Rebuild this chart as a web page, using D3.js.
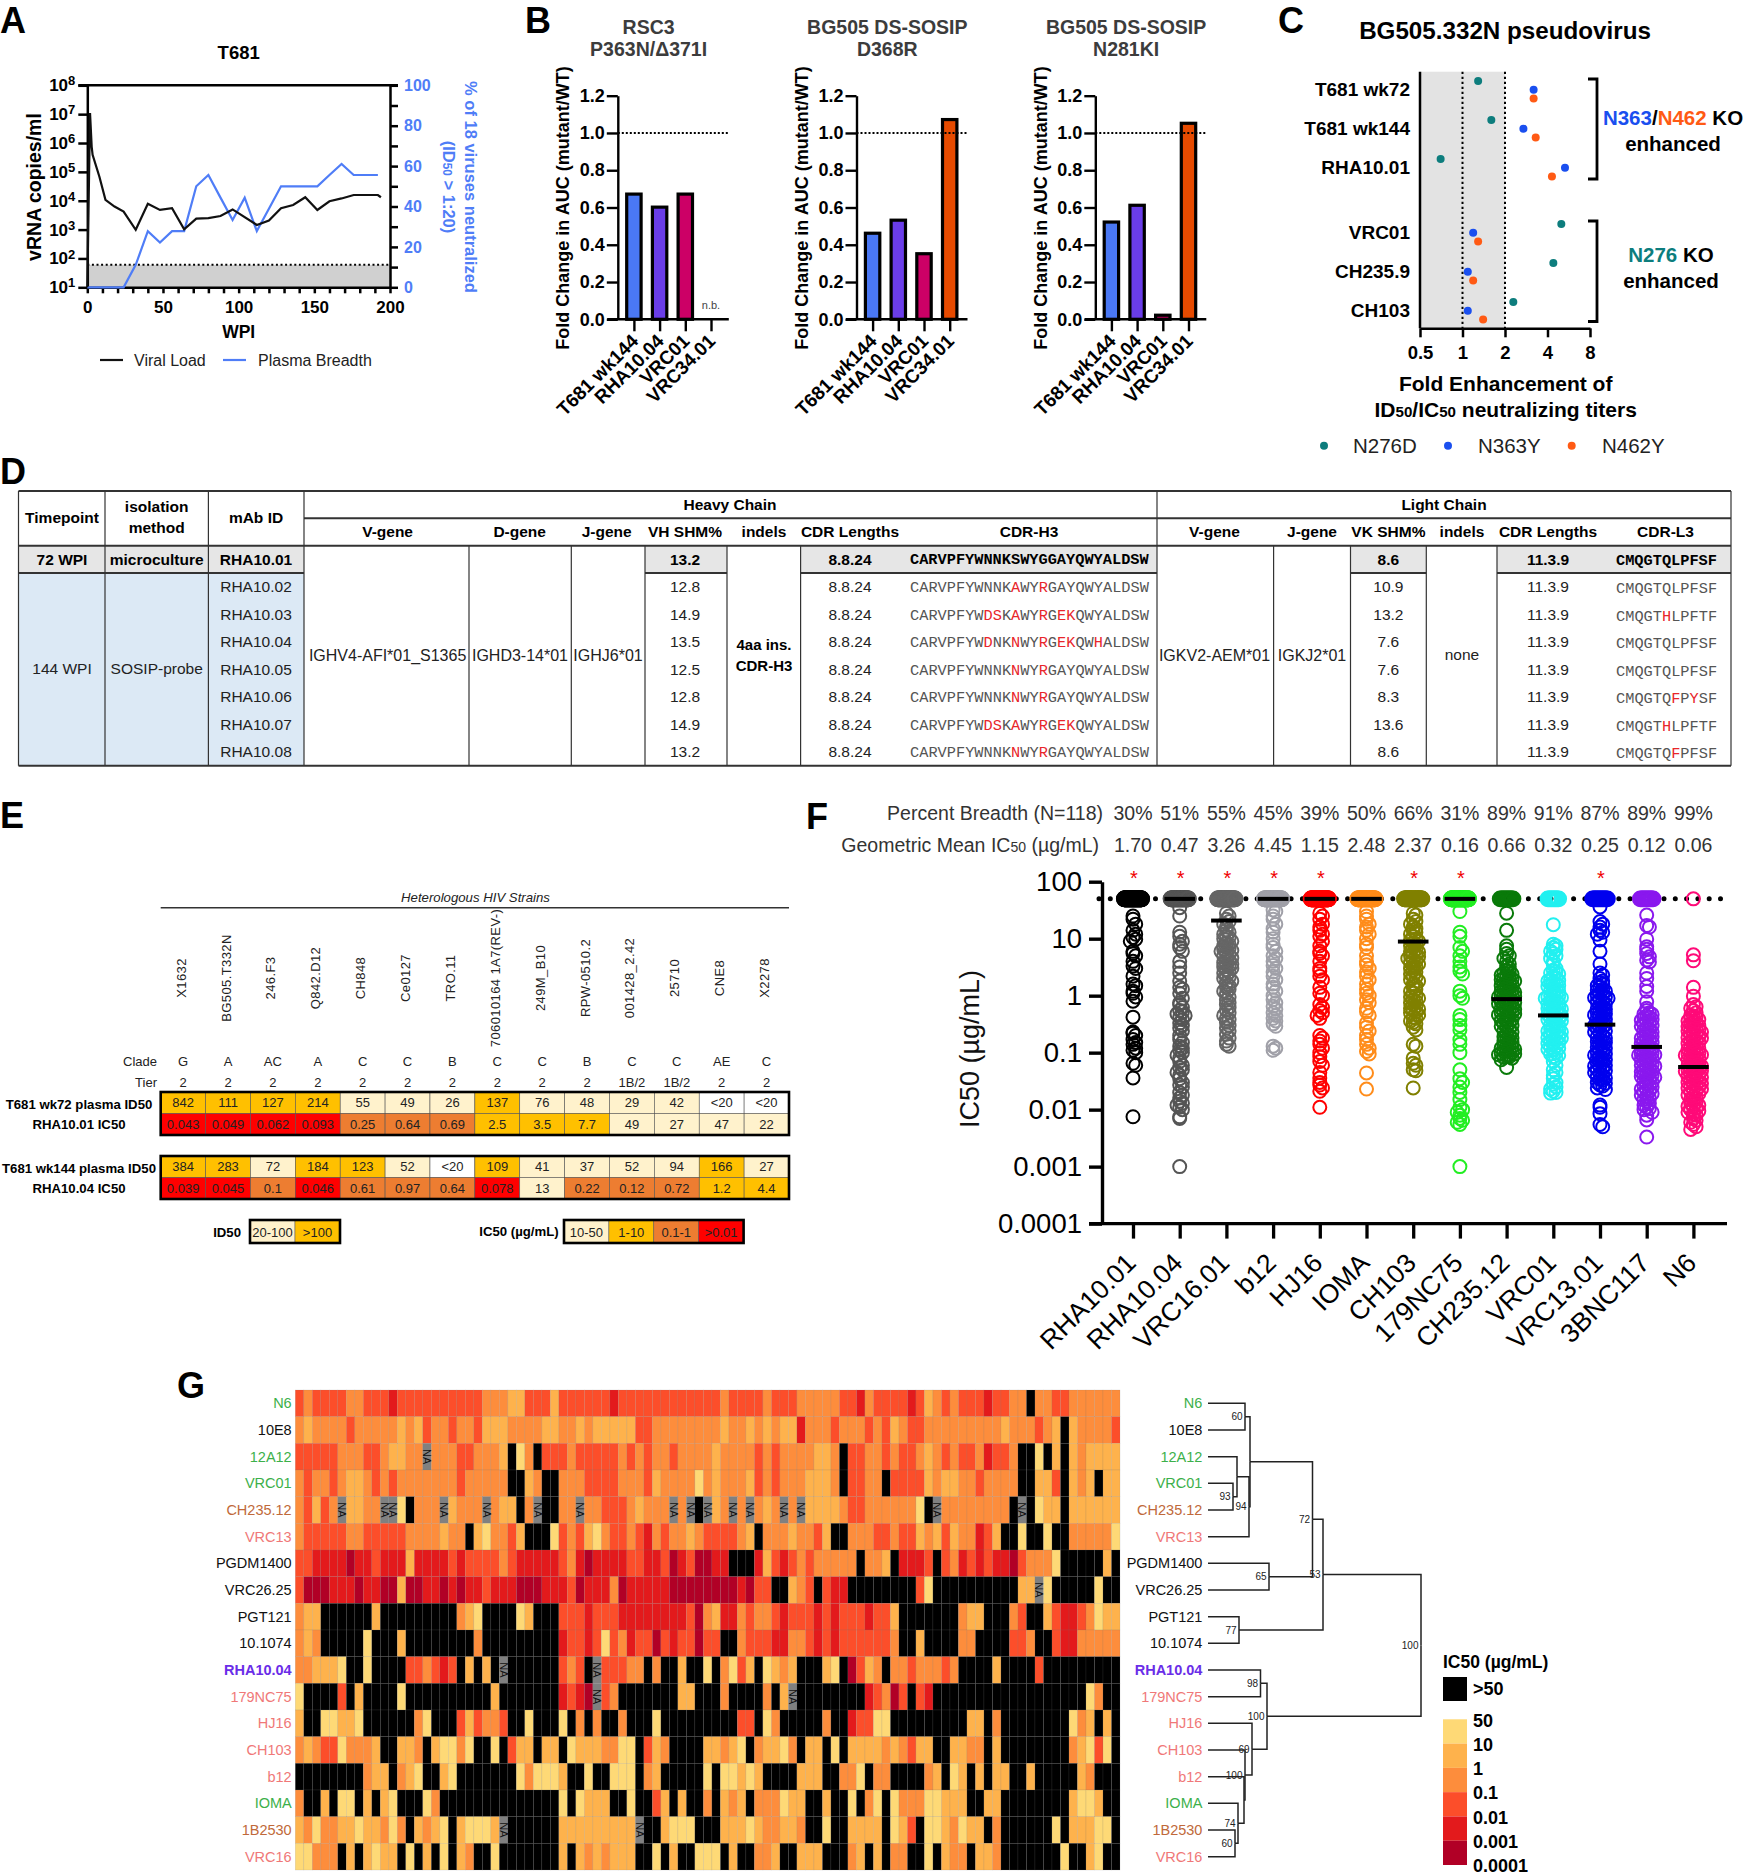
<!DOCTYPE html>
<html>
<head>
<meta charset="utf-8">
<script src="https://cdnjs.cloudflare.com/ajax/libs/d3/7.8.5/d3.min.js"></script>
<style>
body { margin: 0; background: #fff; }
text { font-family: "Liberation Sans", Arial, sans-serif; }
</style>
</head>
<body>
<div id="chart"></div>
<script>
// panel A
var vlWeeks = [0,1.8,2.9,3.5,8,12,18,24,32,40,48,56,64,72,80,88,96,112,120,128,136,144,152,160,168,176,192,194];
var vlValues = [10,11000000,740000,390000,68000,10700,6300,4200,980,7800,4800,5500,1020,2400,2500,2950,5000,1450,2050,5500,7100,13200,4800,9600,12000,15800,15800,13200];
var brWeeks = [0,24,32,40,48,56,64,72,80,88,96,104,112,120,128,152,160,168,176,192];
var brValues = [0,0,11.1,27.8,22.2,27.8,27.8,50,55.6,44.4,33.3,44.4,27.8,38.9,50,50,55.6,61.1,55.6,55.6];

// panel B
var bLabels = ["T681 wk144","RHA10.04","VRC01","VRC34.01"];
var bColors = ["#4a78f5","#6a3de8","#cc0066","#e64a00"];
var bRsc3 = [0.68,0.61,0.68,null];
var bD368R = [0.47,0.54,0.36,1.08];
var bN281KI = [0.53,0.62,0.03,1.06];

// panel C
var cTop = ["T681 wk72","T681 wk144","RHA10.01"];
var cBottom = ["VRC01","CH235.9","CH103"];
var cN276D = [1.29,1.60,0.70,5.01,4.40,2.29];
var cN363Y = [3.19,2.70,5.32,1.19,1.09,1.09];
var cN462Y = [3.19,3.30,4.30,1.29,1.19,1.40];

// panel D  (lowercase letters are the mutated residues, drawn red)
var dMabs = ["RHA10.02","RHA10.03","RHA10.04","RHA10.05","RHA10.06","RHA10.07","RHA10.08"];
var dVh = ["12.8","14.9","13.5","12.5","12.8","14.9","13.2"];
var dVk = ["10.9","13.2","7.6","7.6","8.3","13.6","8.6"];
var dH3 = ["CARVPFYWNNKaWYrGAYQWYALDSW","CARVPFYWdsKaWYrGekQWYALDSW","CARVPFYWdNKnWYrGekQWhALDSW","CARVPFYWNNKnWYrGAYQWYALDSW","CARVPFYWNNKnWYrGAYQWYALDSW","CARVPFYWdsKaWYrGekQWYALDSW","CARVPFYWNNKnWYrGAYQWYALDSW"];
var dL3 = ["CMQGTQLPFSF","CMQGThLPFTF","CMQGTQLPFSF","CMQGTQLPFSF","CMQGTQfPySF","CMQGThLPFTF","CMQGTQfPFSF"];

// panel E
var eStrains = ["X1632","BG505.T332N","246.F3","Q842.D12","CH848","Ce0127","TRO.11","706010164 1A7(REV-)","249M_B10","RPW-0510.2","001428_2.42","25710","CNE8","X2278"];
var eClade = ["G","A","AC","A","C","C","B","C","C","B","C","C","AE","C"];
var eTier = ["2","2","2","2","2","2","2","2","2","2","1B/2","1B/2","2","2"];
var eWk72 = ["842","111","127","214","55","49","26","137","76","48","29","42","<20","<20"];
var eRha01 = ["0.043","0.049","0.062","0.093","0.25","0.64","0.69","2.5","3.5","7.7","49","27","47","22"];
var eWk144 = ["384","283","72","184","123","52","<20","109","41","37","52","94","166","27"];
var eRha04 = ["0.039","0.045","0.1","0.046","0.61","0.97","0.64","0.078","13","0.22","0.12","0.72","1.2","4.4"];

// panel F
var fNames = ["RHA10.01","RHA10.04","VRC16.01","b12","HJ16","IOMA","CH103","179NC75","CH235.12","VRC01","VRC13.01","3BNC117","N6"];
var fColors = ["#000000","#555555","#666666","#a0a0a8","#ff0000","#ff8c1a","#808000","#22ee22","#0a7a0a","#22f0f0","#0000ee","#8a18ee","#ff0a78"];
var fBreadth = [30,51,55,45,39,50,66,31,89,91,87,89,99];
var fGeo = ["1.70","0.47","3.26","4.45","1.15","2.48","2.37","0.16","0.66","0.32","0.25","0.12","0.06"];
var fBars = [50,50,20.8,50,50,50,8.9,50,0.87,0.45,0.31,0.126,0.056];
var fStarred = ["RHA10.01","RHA10.04","VRC16.01","b12","HJ16","CH103","179NC75","VRC13.01"];
var fRha01 = [25,22,18,14,12,10.5,9.8,9,6,5.5,5,4,3.3,3,2.2,1.6,1.5,1.2,1.1,0.95,0.8,0.42,0.23,0.22,0.2,0.17,0.15,0.14,0.12,0.11,0.1,0.065,0.06,0.036,0.0075];
var fRha04 = [35,25,13,11,9,8,7,6,4,3.2,2.5,1.8,1.4,1.3,1.1,0.9,0.75,0.7,0.62,0.55,0.52,0.48,0.45,0.42,0.38,0.33,0.3,0.27,0.24,0.2,0.17,0.15,0.13,0.12,0.11,0.1,0.09,0.08,0.07,0.06,0.055,0.05,0.045,0.04,0.035,0.03,0.027,0.025,0.02,0.018,0.016,0.014,0.013,0.012,0.011,0.01,0.0075,0.007,0.001];
var fVrc16 = [28,25,22,20,18,16,14,13,12,11,10.5,10,9,8.5,8,7.5,7,6.8,6.5,6.2,6,5.5,5.2,5,4.6,4.4,4.2,3.8,3.6,3.5,3.3,3.2,3,2.8,2.6,2.5,2.2,2.1,2,1.8,1.7,1.5,1.4,1.3,1.2,1.1,0.95,0.85,0.75,0.7,0.62,0.55,0.5,0.45,0.4,0.38,0.34,0.3,0.27,0.24,0.21,0.18,0.16,0.14,0.13];
var fB12 = [32,30,25,22,18,15,13,10,8,7,6,5,4.5,4,3.4,3,2.6,2.2,1.9,1.6,1.4,1.2,1,0.85,0.75,0.65,0.58,0.5,0.45,0.4,0.36,0.32,0.29,0.13,0.12,0.11];
var fHj16 = [28,25,22,18,16,14,12,11,9,7.5,6,5.5,5,4,3,2.7,2.2,1.9,1.4,1.1,1,0.7,0.62,0.55,0.5,0.45,0.4,0.2,0.18,0.16,0.14,0.12,0.1,0.085,0.07,0.06,0.045,0.036,0.03,0.027,0.024,0.021,0.011];
var fIoma = [30,25,22,18,16,14,12,10,8,7,5,4,3.5,3,2.6,2.2,1.9,1.6,1.3,1.1,1,0.85,0.75,0.6,0.52,0.45,0.33,0.28,0.24,0.2,0.17,0.14,0.12,0.105,0.095,0.044,0.023];
var fCh103 = [28,26,22,20,18,16,15,14,13,12,11,10,9.5,9,8.5,8,7.5,7,6.5,6,5.8,5.5,5.2,5,4.8,4.5,4.2,4,3.8,3.6,3.4,3.2,3,2.8,2.6,2.4,2.2,2.1,1.9,1.8,1.6,1.5,1.4,1.3,1.2,1.1,1,0.95,0.9,0.85,0.8,0.75,0.7,0.65,0.6,0.58,0.55,0.52,0.5,0.46,0.42,0.4,0.36,0.34,0.32,0.28,0.25,0.14,0.13,0.08,0.065,0.06,0.05,0.048,0.024];
var f179 = [30,13,11,7,6,5,4,3.2,2.7,2.4,1.2,1,0.9,0.45,0.38,0.3,0.25,0.17,0.14,0.1,0.05,0.035,0.03,0.025,0.02,0.015,0.011,0.01,0.009,0.008,0.007,0.0065,0.006,0.0055,0.001];
var fCh235 = [28,14,7.5,6.5,5.5,5,4.5,4,3.6,3.3,3,2.8,2.6,2.5,2.4,2.3,2.2,2.1,2,1.95,1.9,1.8,1.75,1.7,1.6,1.55,1.5,1.4,1.35,1.3,1.25,1.2,1.15,1.12,1.1,1.05,1.02,1,0.98,0.95,0.92,0.9,0.88,0.85,0.82,0.8,0.78,0.75,0.72,0.7,0.68,0.65,0.62,0.6,0.58,0.56,0.55,0.52,0.5,0.5,0.48,0.46,0.45,0.43,0.42,0.4,0.38,0.37,0.35,0.33,0.32,0.3,0.29,0.28,0.26,0.24,0.23,0.22,0.2,0.19,0.18,0.17,0.165,0.16,0.15,0.14,0.135,0.13,0.125,0.12,0.115,0.11,0.108,0.105,0.1,0.098,0.095,0.092,0.09,0.088,0.085,0.082,0.08,0.075,0.055];
var fVrc01 = [17.6,8,7.5,7,6.5,6,5.5,5,4.5,4,3.5,3,2.8,2.6,2.5,2.4,2.2,2,1.9,1.85,1.8,1.7,1.65,1.6,1.5,1.45,1.4,1.3,1.25,1.2,1.1,1.05,1,0.98,0.95,0.92,0.9,0.85,0.82,0.8,0.75,0.72,0.7,0.68,0.65,0.62,0.6,0.58,0.55,0.52,0.5,0.49,0.47,0.45,0.44,0.42,0.41,0.39,0.38,0.36,0.35,0.33,0.31,0.3,0.28,0.27,0.26,0.25,0.24,0.23,0.22,0.21,0.2,0.19,0.185,0.18,0.17,0.165,0.16,0.15,0.145,0.14,0.13,0.125,0.12,0.115,0.11,0.1,0.095,0.09,0.085,0.08,0.07,0.06,0.05,0.045,0.04,0.035,0.03,0.028,0.025,0.023,0.021,0.02,0.0195];
var fVrc13 = [36,20,18,16,14,13,12,9.5,6,3.6,2.5,2.3,2,1.8,1.7,1.6,1.5,1.4,1.3,1.25,1.2,1.1,1.05,1,0.95,0.92,0.9,0.85,0.8,0.78,0.72,0.68,0.65,0.6,0.58,0.55,0.52,0.5,0.48,0.46,0.44,0.42,0.4,0.38,0.35,0.34,0.32,0.31,0.3,0.28,0.27,0.26,0.24,0.23,0.22,0.2,0.19,0.18,0.17,0.16,0.155,0.15,0.14,0.13,0.125,0.12,0.11,0.105,0.1,0.095,0.09,0.085,0.08,0.078,0.075,0.07,0.068,0.065,0.06,0.058,0.055,0.052,0.05,0.048,0.045,0.042,0.04,0.038,0.036,0.034,0.033,0.03,0.029,0.027,0.026,0.024,0.0225,0.012,0.011,0.0085,0.0055,0.005];
var f3bnc = [26,17,16,9.8,7.2,6.5,5.5,4.8,4.2,3.9,2.5,2,1.45,1.2,0.78,0.6,0.55,0.5,0.48,0.47,0.44,0.42,0.41,0.38,0.37,0.35,0.33,0.31,0.3,0.29,0.27,0.26,0.25,0.23,0.22,0.21,0.2,0.19,0.18,0.17,0.165,0.16,0.15,0.145,0.14,0.13,0.125,0.12,0.115,0.11,0.105,0.1,0.098,0.095,0.092,0.09,0.085,0.082,0.08,0.078,0.075,0.07,0.068,0.065,0.062,0.06,0.058,0.055,0.052,0.05,0.048,0.046,0.044,0.043,0.041,0.04,0.038,0.037,0.035,0.034,0.032,0.03,0.028,0.027,0.026,0.025,0.023,0.022,0.021,0.02,0.019,0.018,0.017,0.016,0.015,0.014,0.013,0.012,0.011,0.0105,0.01,0.009,0.008,0.0066,0.0033];
var fN6 = [5.2,4.1,1.4,0.98,0.7,0.64,0.6,0.55,0.5,0.45,0.44,0.42,0.4,0.38,0.36,0.35,0.33,0.32,0.3,0.29,0.28,0.27,0.26,0.25,0.24,0.23,0.22,0.21,0.2,0.19,0.185,0.18,0.17,0.165,0.16,0.15,0.145,0.14,0.13,0.125,0.12,0.115,0.11,0.105,0.1,0.098,0.095,0.092,0.09,0.085,0.082,0.08,0.078,0.075,0.07,0.068,0.065,0.062,0.06,0.058,0.055,0.054,0.052,0.051,0.05,0.048,0.047,0.045,0.044,0.042,0.041,0.04,0.038,0.037,0.035,0.034,0.033,0.031,0.03,0.029,0.028,0.027,0.026,0.025,0.024,0.023,0.022,0.021,0.02,0.019,0.018,0.017,0.016,0.015,0.014,0.0135,0.013,0.012,0.0115,0.011,0.0105,0.01,0.0095,0.009,0.0085,0.008,0.007,0.0065,0.006,0.0055,0.005,0.0045];
var fValues = [fRha01,fRha04,fVrc16,fB12,fHj16,fIoma,fCh103,f179,fCh235,fVrc01,fVrc13,f3bnc,fN6];

// panel G: 0 is >50, 1..6 are the IC50 classes from 10-50 down to <0.001, N is not available
var gNames = ["N6","10E8","12A12","VRC01","CH235.12","VRC13","PGDM1400","VRC26.25","PGT121","10.1074","RHA10.04","179NC75","HJ16","CH103","b12","IOMA","1B2530","VRC16"];
var gHeat = [
"4 3 4444 33 444 5 4444444444 333 22 444 2 444444 5 444444  444444 3 4444 3 444 33333 44 5 3 4444 5 4 2 3 4 3 444 5 44 33 0 33 44 333333",
"3 2 3333 4 33333 2 3 2 4 33 4 33 4 222 3333 22 33 2 3 22222 44 33  333333 2 33 2 3 2 3 22 5 333 4 333 4 3 4 2 3 44 333333333 2 333 4 3 2 0 2 3333 4",
"44444 333 44 3 22 33 N 333 44 333 2 0 1 3 0 444 3 44444 3 4 3 4 33  4 3333 2 3333 4 3 4 3333 22 3 0 44 33 4 3 44 3 2 3 4 3 44 3 5 44 3 00 1 0 2 0 2 3 2222",
"3 4 33 4 3 22 3 4 3 4 3333333 4 33333 00 2 3 00 333 4444 333 4 2 3  333 1 3 2 333 2 4 3 4 333 222 3 0 44 33 0 4444 2 3 22 33 4 3333 00 22 4 0 2 3 2 0 22",
"3 4 2 4 3 N 22 33 NN 1 0 333 N 2 333 N 3 22 0 3 N 00 33 N 33 444 3 2 333  N 3 N 0 N 2 3 N 3 N 3 2 3 N 3 N 2222 3 44 333333 1 0 N 33333333 0 N 0 1 22 0 222222",
"3 44444 33 44444 3333 2 33 0 2 1 33 4 2 000 1 4 3 4 2 1 3 44 3 4 5 3 4  33 2 3 4444 3 2 0 333 2 33 4 2 00 333 44 3 44 2 3 2 4 2 33 5 4 2 00 1 00 1 00 33333 1",
"44 5555 6 55 4 555 2 5555 4 5 4444 3 4 55555 4 3 5 6 5555 44 55 4  6 5 4 66 55 000 5 2 4 5 4 3 4 33333 0 33 2 0 555 4 0 4 3 5 4 5 4 55 6 4 333 1 00000 2 0",
"4 666 555 6 55 66 2 66 55 6 5 6 55 4 555 666 555 4 6 555 3 6 55555  66666666 5 6 44 00 2 3 4 0 4 55 00000000 4 1 0000000000 22 N 1 00000 1 00",
"3 22 000000 2 000000000 3 2 1 0000 1 2 000 444 5 444 555555  55 4 6 3 2 55 3 4 33 4 5 444 5 4 5 444 5 44 2 0000000 3 22 000 3 4 00 2 4 55 4 3 1 22",
"3 2 3 00000 1 000 2 00000000 3 000000000 5 44 5 4 1 4 3 5 44 6 4  5 44 6 44 00 3 444 55 33 4 5 4 5 444444 3 00 2 0000 33 0000 44 3 00 4 55 33333",
"33 222 1 00 1 0000 44 3 4 5 4 0 2 0 2 0 N 000000 4 3 4 0 N 444 33 0 3 0  0 2 00 1 0 3 1 4 2 0 1 2 3 2 000 2 1 0 6 4 2 3 0 33 4 333 4 3 0000 2 0000 4 000000000",
"1 0000 4 0 2 0000 1 0000000000 2 0000000 5 4 5 6 N 4 3 000000  0 22 000 3 0000 3 0 2 N 00000000 5 4 3 6 4 0 4 5 000000000000000000 1 3 00",
"2 00 11 22 1 000000 3 1 000 4 2 4 33 4 00 1 000 1 0 3 0 3 00 3 000 1 0  00000000 44 0 1 3 00000 3 00 5 44 11 000000000 22 0 3 00000000 1 3 2 0 2 0",
"3 2 3 44 1 333 2 00 22 3 0 2 11 3 1 00 1 0 4 22 0 22 0 1 222 33 11 0 4 2 3  0000 22 3 2 1 0 3 22 1 3 0 22 0 1 0 2222 3 2 3 4 22 00 22 33 0 2 00000000 3 2 1 4 1 0",
"00000000 3 22 0 3 2 1 00 2 1 0000000 1 3 111 2 00 1 00 111 0 3 2 0  0000 1 0 11 2 1 2 0000 222 00 33 1 0 33 0000 3 2 0 1 2 0 2 0 22 00 2 00000 2 3 000",
"3 00 2 0 11 0 2 0 2 1 000 1 3 00000000000000 1 0 1 222 00 1 00 4 2  0 2 00 3 0 2 3 2 0 333 1 22 00 2 00 1 0 3 1 0 1 333 11 222 00 22 00000000 2 11 2 00",
"2 3 1 33 22 1 22 3 1 3 0 2 3 2 1 0 2 111 2 N 000000 222222222 N 00 2  111 000 222 1 2 33 22 3 00 1 00 2222 0 1 2 4 0 11 2 3 1 22 0 3 000000 1 0 222 11 0",
"11 333 0 2 0 2 1 22 0 1 0 2 0 1 0 2 3 00 1 0000000 2 0 2 3 2 3 222 00 1 0  2 00 111 0 2 00 33 2 00 222 000 3 2 0 2 0 33 00 1 0 2 33 0 22 3 0000000 1 00 2 1 00"
];
var gTree = [213,"100",[
  [115,"53",[
    [104.5,"72",[
      [42,"",[
        [37,"60",["N6","10E8"]],
        [41,"94",[[29,"",["12A12",[25,"93",["VRC01","CH235.12"]]]],"VRC13"]]
      ]],
      [61,"65",["PGDM1400","VRC26.25"]]
    ]],
    [31,"77",["PGT121","10.1074"]]
  ]],
  [59,"100",[
    [52.5,"98",["RHA10.04","179NC75"]],
    [44,"69",["HJ16",[37,"100",["CH103",[36,"",["b12",[30,"74",["IOMA",[27,"60",["1B2530","VRC16"]]]]]]]]]]
  ]]
]];
var gLegend = ["50","10","1","0.1","0.01","0.001","0.0001"];

var svg = d3.select("#chart").append("svg").attr("width",1744).attr("height",1872);
var blue = "#4f7df7";

// text helper: ~50~ makes small digits, an array of [text,color] colours parts
function label(g,x,y,s,o) {
  o = o || {};
  var size = o.size || 15;
  var t = g.append("text").attr("x",x).attr("y",y).attr("dy",".35em")
    .attr("text-anchor",o.anchor || "middle").attr("font-size",size)
    .attr("font-weight",o.weight || "normal").attr("font-style",o.style || "normal")
    .attr("fill",o.color || "#000");
  if (o.rotate) t.attr("transform","rotate("+o.rotate+" "+x+" "+y+")");
  if (Array.isArray(s)) {
    s.forEach(function(p) { t.append("tspan").attr("fill",p[1]).text(p[0]); });
  } else {
    s.split("~").forEach(function(p,i) {
      var sp = t.append("tspan").text(p);
      if (i % 2) sp.attr("font-size",size*0.72);
    });
  }
  return t;
}
function styleAxis(g,w,size,color,weight) {
  g.attr("font-size",size).attr("font-weight",weight || "bold");
  g.selectAll("text").attr("fill",color || "#000");
  g.selectAll("line").attr("stroke","#000").attr("stroke-width",w);
  g.select(".domain").attr("stroke","#000").attr("stroke-width",w);
}
function letter(x,y,s) { label(svg,x,y,s,{anchor:"start",size:36,weight:"bold"}); }

letter(0,20,"A"); letter(525,20,"B"); letter(1278,20,"C"); letter(0,471,"D");
letter(0,815,"E"); letter(806,816,"F"); letter(177,1385,"G");

// ---- A
var aX = d3.scaleLinear().domain([0,200]).range([87.3,390]);
var aY = d3.scaleLog().domain([10,1e8]).range([287.3,85.3]);
var aR = d3.scaleLinear().domain([0,100]).range([287.3,85.3]);
var a = svg.append("g");
a.append("rect").attr("x",aX(0)).attr("width",aX(200)-aX(0)).attr("y",aY(60)).attr("height",aY(10)-aY(60)).attr("fill","#d0d0d0");
a.append("line").attr("x1",aX(0)).attr("x2",aX(200)).attr("y1",aY(60)).attr("y2",aY(60)).attr("stroke","#000").attr("stroke-width",2).attr("stroke-dasharray","2 2.6");

var aLeft = a.append("g").attr("transform","translate(87.3,0)")
  .call(d3.axisLeft(aY).tickValues([10,100,1e3,1e4,1e5,1e6,1e7,1e8]).tickSize(9).tickSizeOuter(0).tickPadding(3).tickFormat(""));
styleAxis(aLeft,2.5,17);
aLeft.selectAll(".tick text").each(function(d) {
  var t = d3.select(this);
  t.append("tspan").text("10");
  t.append("tspan").attr("dy","-.45em").attr("font-size",13).text(Math.round(Math.log10(d)));
});
var aBottom = a.append("g").attr("transform","translate(0,287.3)")
  .call(d3.axisBottom(aX).tickValues(d3.range(0,201,10)).tickSize(6).tickSizeOuter(0).tickPadding(8)
  .tickFormat(function(d) { return d % 50 ? "" : d; }));
styleAxis(aBottom,2.5,17);
var aRight = a.append("g").attr("transform","translate(390,0)")
  .call(d3.axisRight(aR).tickValues(d3.range(0,101,10)).tickSize(8).tickSizeOuter(0).tickPadding(6)
  .tickFormat(function(d) { return d % 20 ? "" : d; }));
styleAxis(aRight,2.5,16,blue);
a.append("line").attr("x1",78.3).attr("x2",398).attr("y1",85.3).attr("y2",85.3).attr("stroke","#000").attr("stroke-width",2.5);

var aLine = d3.line().x(function(d) { return aX(d[0]); }).y(function(d) { return d[1]; });
a.append("path").attr("d",aLine(brWeeks.map(function(w,i) { return [w,aR(brValues[i])]; })))
  .attr("fill","none").attr("stroke",blue).attr("stroke-width",2.2);
a.append("path").attr("d",aLine(vlWeeks.map(function(w,i) { return [w,aY(vlValues[i])]; })))
  .attr("fill","none").attr("stroke","#111").attr("stroke-width",2.2);

label(a,238.7,53,"T681",{size:18.5,weight:"bold"});
label(a,238.7,332,"WPI",{size:17.5,weight:"bold"});
label(a,34,187,"vRNA copies/ml",{size:19.5,weight:"bold",rotate:-90});
label(a,471,187,"% of 18 viruses neutralized",{size:16.5,weight:"bold",rotate:90,color:blue});
label(a,449,187,"(ID~50~ > 1:20)",{size:16.5,weight:"bold",rotate:90,color:blue});
a.append("line").attr("x1",100).attr("x2",123).attr("y1",360).attr("y2",360).attr("stroke","#111").attr("stroke-width",2.2);
label(a,134,360,"Viral Load",{size:16,anchor:"start",color:"#222"});
a.append("line").attr("x1",223).attr("x2",246).attr("y1",360).attr("y2",360).attr("stroke",blue).attr("stroke-width",2.2);
label(a,258,360,"Plasma Breadth",{size:16,anchor:"start",color:"#222"});

// ---- B
var bY = d3.scaleLinear().domain([0,1.2]).range([319.3,95.7]);
function barChart(x0,title1,title2,values) {
  var g = svg.append("g").attr("transform","translate("+x0+",0)");
  var x = d3.scalePoint().domain(bLabels).range([16.1,93.2]);
  g.selectAll("rect").data(values).enter().filter(function(d) { return d !== null; }).append("rect")
    .attr("x",function(d,i) { return x(bLabels[i])-7.2; }).attr("width",14.4)
    .attr("y",function(d) { return bY(d)+1.5; }).attr("height",function(d) { return bY(0)-bY(d)-1.5; })
    .attr("fill",function(d,i) { return bColors[i]; }).attr("stroke","#000").attr("stroke-width",3.2);
  g.append("line").attr("x1",0).attr("x2",110).attr("y1",bY(1)).attr("y2",bY(1))
    .attr("stroke","#000").attr("stroke-width",2).attr("stroke-dasharray","2 2");
  var yAx = g.append("g").call(d3.axisLeft(bY).tickValues(d3.range(0,1.21,0.2)).tickSize(11).tickSizeOuter(0).tickPadding(2).tickFormat(d3.format(".1f")));
  styleAxis(yAx,2.4,18);
  var xAx = g.append("g").attr("transform","translate(0,319.3)").call(d3.axisBottom(x).tickSize(12).tickSizeOuter(0));
  styleAxis(xAx,2.4,19);
  xAx.select(".domain").remove();
  xAx.selectAll(".tick text").attr("x",0).attr("y",0).attr("dy",0).attr("text-anchor","end")
    .attr("transform","translate(5,23) rotate(-45)");
  g.append("line").attr("x1",-10.6).attr("x2",111).attr("y1",319.3).attr("y2",319.3).attr("stroke","#000").attr("stroke-width",2.4);
  label(g,30.8,27,title1,{size:19.5,weight:"bold",color:"#3c3c3c"});
  label(g,30.8,49,title2,{size:19.5,weight:"bold",color:"#3c3c3c"});
  label(g,-55,208,"Fold Change in AUC (mutant/WT)",{size:18,weight:"bold",rotate:-90});
  return g;
}
var b1 = barChart(617.8,"RSC3","P363N/\u0394371I",bRsc3);
label(b1,93.2,305,"n.b.",{size:11,color:"#444"});
barChart(856.5,"BG505 DS-SOSIP","D368R",bD368R);
barChart(1095.3,"BG505 DS-SOSIP","N281KI",bN281KI);

// ---- C
var cX = d3.scaleLog().base(2).domain([0.5,8]).range([1420,1590]);
var cYa = d3.scalePoint().domain(cTop).range([89.7,167.7]);
var cYb = d3.scalePoint().domain(cBottom).range([232.7,310.7]);
function cY(n) { return cTop.indexOf(n) >= 0 ? cYa(n) : cYb(n); }
var cNames = cTop.concat(cBottom);
var c = svg.append("g");
c.append("rect").attr("x",cX(0.5)).attr("width",cX(2)-cX(0.5)).attr("y",71.7).attr("height",256.6).attr("fill","#e3e3e3");
[1,2].forEach(function(v) {
  c.append("line").attr("x1",cX(v)).attr("x2",cX(v)).attr("y1",71.7).attr("y2",328.3)
    .attr("stroke","#000").attr("stroke-width",2).attr("stroke-dasharray","2.4 2.6");
});
c.append("line").attr("x1",1420).attr("x2",1420).attr("y1",71.7).attr("y2",328.3).attr("stroke","#000").attr("stroke-width",2.5);
var cAx = c.append("g").attr("transform","translate(0,328.3)")
  .call(d3.axisBottom(cX).tickValues([0.5,1,2,4,8]).tickSize(9).tickSizeOuter(0).tickPadding(9).tickFormat(function(d) { return d; }));
styleAxis(cAx,2.5,18.5);
[[cN276D,"#0d7d7d",-8.8],[cN363Y,"#1a4fef",0],[cN462Y,"#ff5a14",8.8]].forEach(function(s) {
  c.selectAll(null).data(s[0]).enter().append("circle")
    .attr("cx",function(d) { return cX(d); })
    .attr("cy",function(d,i) { return cY(cNames[i])+s[2]; })
    .attr("r",4).attr("fill",s[1]);
});
cNames.forEach(function(n) { label(c,1410,cY(n),n,{size:19,weight:"bold",anchor:"end"}); });
label(c,1505,31,"BG505.332N pseudovirus",{size:24.2,weight:"bold"});
c.append("path").attr("d","M1588,79H1597V179H1588").attr("fill","none").attr("stroke","#000").attr("stroke-width",2.8);
c.append("path").attr("d","M1588,221H1597V321.5H1588").attr("fill","none").attr("stroke","#000").attr("stroke-width",2.8);
label(c,1673,118,[["N363","#1a4fef"],["/","#000"],["N462","#ff5a14"],[" KO","#000"]],{size:20.5,weight:"bold"});
label(c,1673,143.5,"enhanced",{size:20.5,weight:"bold"});
label(c,1671,255,[["N276","#0d7d7d"],[" KO","#000"]],{size:20.5,weight:"bold"});
label(c,1671,281,"enhanced",{size:20.5,weight:"bold"});
label(c,1505.7,384,"Fold Enhancement of",{size:21,weight:"bold"});
label(c,1505.7,410,"ID~50~/IC~50~ neutralizing titers",{size:21,weight:"bold"});
[["N276D","#0d7d7d",1324,1353],["N363Y","#1a4fef",1448,1478],["N462Y","#ff5a14",1571.7,1602]].forEach(function(l) {
  c.append("circle").attr("cx",l[2]).attr("cy",445.7).attr("r",4).attr("fill",l[1]);
  label(c,l[3],445.7,l[0],{size:20.5,anchor:"start",color:"#222"});
});

// ---- D
var d = svg.append("g");
var dLeft = 18.5, dRight = 1731, dTop = 491, dHead = 545.7, dRow1 = 573, dBottom = 765.7;
var dRowY = d3.scalePoint().domain(dMabs).range([587,751.7]);
function dRect(x1,x2,y1,y2,fill) { d.append("rect").attr("x",x1).attr("width",x2-x1).attr("y",y1).attr("height",y2-y1).attr("fill",fill); }
dRect(dLeft,304,dHead,dRow1,"#e6e6e6");
dRect(645,727,dHead,dRow1,"#e6e6e6");
dRect(800.6,1157,dHead,dRow1,"#e6e6e6");
dRect(1350.5,1426.3,dHead,dRow1,"#e6e6e6");
dRect(1497,dRight,dHead,dRow1,"#e6e6e6");
dRect(dLeft,304,dRow1,dBottom,"#dce9f5");
function dLine(x1,y1,x2,y2,w) { d.append("line").attr("x1",x1).attr("y1",y1).attr("x2",x2).attr("y2",y2).attr("stroke","#333").attr("stroke-width",w || 1.2); }
dLine(dLeft,dTop,dRight,dTop,2);
dLine(304,518.3,dRight,518.3,2);
dLine(dLeft,dHead,dRight,dHead,2);
dLine(dLeft,dBottom,dRight,dBottom,2);
dLine(dLeft,dRow1,304,dRow1,2);
dLine(645,dRow1,727,dRow1,2);
dLine(800.6,dRow1,1157,dRow1,2);
dLine(1350.5,dRow1,1426.3,dRow1,2);
dLine(1497,dRow1,dRight,dRow1,2);
[dLeft,105,208.4,304,1157,dRight].forEach(function(x) { dLine(x,dTop,x,dBottom); });
[469,571.3,645,727,800.6,1273.6,1350.5,1426.3,1497].forEach(function(x) { dLine(x,dHead,x,dBottom); });

var hb = {size:15.5,weight:"bold"}, dt = {size:15.5,color:"#222"};
label(d,62,518,"Timepoint",hb);
label(d,156.7,507,"isolation",hb);
label(d,156.7,528,"method",hb);
label(d,256,518,"mAb ID",hb);
label(d,730,505,"Heavy Chain",hb);
label(d,1444,505,"Light Chain",hb);
[["V-gene",387.6],["D-gene",519.7],["J-gene",606.7],["VH SHM%",685],["indels",764],["CDR Lengths",850],["CDR-H3",1029],
 ["V-gene",1214.5],["J-gene",1312],["VK SHM%",1388.4],["indels",1462],["CDR Lengths",1548],["CDR-L3",1665.5]].forEach(function(h) {
  label(d,h[1],532,h[0],hb);
});
label(d,62,560,"72 WPI",hb);
label(d,156.7,560,"microculture",hb);
label(d,256,560,"RHA10.01",hb);
label(d,685,560,"13.2",hb);
label(d,850,560,"8.8.24",hb);
label(d,1388.4,560,"8.6",hb);
label(d,1548,560,"11.3.9",hb);
label(d,910,559,"CARVPFYWNNKSWYGGAYQWYALDSW",{size:15.3,weight:"bold",anchor:"start"}).style("font-family","'Liberation Mono'");
label(d,1616,560,"CMQGTQLPFSF",{size:15.3,weight:"bold",anchor:"start"}).style("font-family","'Liberation Mono'");
label(d,62,669,"144 WPI",dt);
label(d,156.7,669,"SOSIP-probe",dt);
label(d,387.6,655,"IGHV4-AFI*01_S1365",{size:16,color:"#222"});
label(d,520,655,"IGHD3-14*01",{size:16,color:"#222"});
label(d,608,655,"IGHJ6*01",{size:16,color:"#222"});
label(d,764,645,"4aa ins.",{size:15,weight:"bold"});
label(d,764,666,"CDR-H3",{size:15,weight:"bold"});
label(d,1214.5,655,"IGKV2-AEM*01",{size:16,color:"#222"});
label(d,1312,655,"IGKJ2*01",{size:16,color:"#222"});
label(d,1462,655,"none",dt);
function seqText(x,y,s) {
  var t = d.append("text").attr("x",x).attr("y",y).attr("dy",".35em").attr("font-size",15.3).style("font-family","'Liberation Mono'");
  s.split("").forEach(function(ch) {
    t.append("tspan").attr("fill",ch === ch.toLowerCase() ? "#e8262b" : "#555").text(ch.toUpperCase());
  });
}
dMabs.forEach(function(m,i) {
  var y = dRowY(m);
  label(d,256,y,m,dt);
  label(d,685,y,dVh[i],dt);
  label(d,850,y,"8.8.24",dt);
  seqText(910,y,dH3[i]);
  label(d,1388.4,y,dVk[i],dt);
  label(d,1548,y,"11.3.9",dt);
  seqText(1616,y+1,dL3[i]);
});

// ---- E
var e = svg.append("g");
var eX = d3.scaleBand().domain(eStrains).range([160.7,789]);
var idColor = d3.scaleThreshold().domain([20,100]).range(["#ffffff","#fff2cc","#ffc000"]);
var icColor = d3.scaleThreshold().domain([0.1,1,10]).range(["#ff0000","#ed7d31","#ffc000","#fff2cc"]);
e.append("line").attr("x1",160.7).attr("x2",789).attr("y1",907.7).attr("y2",907.7).attr("stroke","#333").attr("stroke-width",1.4);
label(e,475.5,897,"Heterologous HIV Strains",{size:13.2,style:"italic",color:"#222"});
eStrains.forEach(function(s,i) {
  var x = eX(s)+eX.bandwidth()/2;
  label(e,x-2,978,s,{size:13,rotate:-90,color:"#222"}).attr("letter-spacing",0.4);
  label(e,x,1061.7,eClade[i],{size:13,color:"#222"});
  label(e,x,1082.7,eTier[i],{size:13,color:"#222"});
});
label(e,157,1061.7,"Clade",{size:13,anchor:"end",color:"#222"});
label(e,157,1082.7,"Tier",{size:13,anchor:"end",color:"#222"});
function eRow(y,h,vals,color) {
  var g = e.append("g");
  g.selectAll("rect").data(vals).enter().append("rect")
    .attr("x",function(d,i) { return eX(eStrains[i]); }).attr("y",y)
    .attr("width",eX.bandwidth()).attr("height",h)
    .attr("fill",function(d) { return color(d.charAt(0) === "<" ? 0 : +d); })
    .attr("stroke","#555").attr("stroke-width",0.6);
  vals.forEach(function(v,i) { label(g,eX(eStrains[i])+eX.bandwidth()/2,y+h/2,v,{size:13,color:"#222"}); });
}
function eBox(x1,x2,y1,y2) { e.append("rect").attr("x",x1).attr("width",x2-x1).attr("y",y1).attr("height",y2-y1).attr("fill","none").attr("stroke","#000").attr("stroke-width",2.6); }
eRow(1092,21.5,eWk72,idColor);
eRow(1113.5,21.5,eRha01,icColor);
eBox(160.7,789,1092,1135);
eRow(1156,21.5,eWk144,idColor);
eRow(1177.5,21.5,eRha04,icColor);
eBox(160.7,789,1156,1199);
label(e,79,1104,"T681 wk72 plasma ID50",{size:13.2,weight:"bold"});
label(e,79,1124.5,"RHA10.01 IC50",{size:13.2,weight:"bold"});
label(e,79,1168,"T681 wk144 plasma ID50",{size:13.2,weight:"bold"});
label(e,79,1188.5,"RHA10.04 IC50",{size:13.2,weight:"bold"});
label(e,241,1232,"ID50",{size:13.2,weight:"bold",anchor:"end"});
label(e,558.7,1231,"IC50 (\u00b5g/mL)",{size:13.2,weight:"bold",anchor:"end"});
function eLegend(x0,w,items) {
  items.forEach(function(it,i) {
    e.append("rect").attr("x",x0+w*i).attr("y",1220).attr("width",w).attr("height",23).attr("fill",it[1]).attr("stroke","#555").attr("stroke-width",0.5);
    label(e,x0+w*(i+0.5),1232,it[0],{size:13,color:"#222"});
  });
  eBox(x0,x0+w*items.length,1220,1243);
}
eLegend(250,45,[["20-100","#fff2cc"],[">100","#ffc000"]]);
eLegend(564,44.9,[["10-50","#fff2cc"],["1-10","#ffc000"],["0.1-1","#ed7d31"],[">0.01","#ff0000"]]);

// ---- F
var f = svg.append("g");
var fX = d3.scalePoint().domain(fNames).range([1133,1693.4]);
var fY = d3.scaleLog().domain([0.0001,100]).range([1223.6,881.7]);
label(f,1103,813,"Percent Breadth (N=118)",{size:19.5,anchor:"end",color:"#333"});
label(f,1099,845.5,"Geometric Mean IC~50~ (\u00b5g/mL)",{size:19.5,anchor:"end",color:"#333"});
fNames.forEach(function(n,i) {
  label(f,fX(n),813,fBreadth[i]+"%",{size:19.5,color:"#333"});
  label(f,fX(n),845.5,fGeo[i],{size:19.5,color:"#333"});
});
fStarred.forEach(function(n) { label(f,fX(n)+1,878,"*",{size:20,color:"#f00000"}); });
f.append("line").attr("x1",1099).attr("x2",1730).attr("y1",fY(50)).attr("y2",fY(50))
  .attr("stroke","#000").attr("stroke-width",5).attr("stroke-linecap","round").attr("stroke-dasharray","0 11.3");

// spread close values sideways like a prism scatter
function swarm(vals) {
  var bins = d3.group(vals,function(v) { return Math.round(Math.log10(v)/0.1); });
  var out = [];
  bins.forEach(function(b) {
    b.forEach(function(v,i) {
      var off = (i % 2 ? 1 : -1)*Math.ceil(i/2)*2.7;
      if (Math.abs(off) > 9) off = off % 9;
      out.push({v:v,off:off});
    });
  });
  return out;
}
fNames.forEach(function(n,i) {
  var g = f.append("g").attr("fill","none").attr("stroke",fColors[i]).attr("stroke-width",2);
  g.selectAll(null).data(swarm(fValues[i])).enter().append("circle")
    .attr("cx",function(p) { return fX(n)+p.off; })
    .attr("cy",function(p) { return fY(p.v); }).attr("r",6.5);
  var nAt = 118-Math.round(118*fBreadth[i]/100);
  var half = Math.min(8.8,nAt*0.5);
  g.selectAll(null).data(d3.range(nAt)).enter().append("circle")
    .attr("cx",function(k) { return fX(n)+(nAt > 1 ? -half+2*half*k/(nAt-1) : 0); })
    .attr("cy",fY(50)).attr("r",nAt > 1 ? 7.3 : 6.5);
});
f.selectAll(".bar").data(fBars).enter().append("line")
  .attr("x1",function(v,i) { return fX(fNames[i])-15.3; }).attr("x2",function(v,i) { return fX(fNames[i])+15.3; })
  .attr("y1",function(v) { return fY(v); }).attr("y2",function(v) { return fY(v); })
  .attr("stroke","#000").attr("stroke-width",4);
var fLeft = f.append("g").attr("transform","translate(1102,0)")
  .call(d3.axisLeft(fY).tickValues([0.0001,0.001,0.01,0.1,1,10,100]).tickSize(13).tickSizeOuter(0).tickPadding(7)
  .tickFormat(function(v) { return v; }));
styleAxis(fLeft,3.4,27.5,"#000","normal");
var fBottom = f.append("g").attr("transform","translate(0,1223.6)")
  .call(d3.axisBottom(fX).tickSize(15).tickSizeOuter(0));
styleAxis(fBottom,3.3,26.5,"#000","normal");
fBottom.select(".domain").remove();
fBottom.selectAll(".tick text").attr("x",0).attr("y",0).attr("dy",0).attr("text-anchor","end")
  .attr("transform","translate(4,41) rotate(-45)");
f.append("line").attr("x1",1089).attr("x2",1727).attr("y1",1223.6).attr("y2",1223.6).attr("stroke","#000").attr("stroke-width",3.4);
label(f,970,1049,"IC50 (\u00b5g/mL)",{size:27,rotate:-90,color:"#111"});

// ---- G
var g = svg.append("g");
var gColor = d3.scaleOrdinal().domain(["0","1","2","3","4","5","6","N"])
  .range(["#000000"].concat(d3.schemeYlOrRd[7].slice(1),["#808080"]));
var gRow = d3.scaleBand().domain(gNames).range([1390,1870]);
var gCol = d3.scaleBand().domain(d3.range(97)).range([295.3,1120]);
var gNameColor = {"N6":"#3cb04a","12A12":"#3cb04a","VRC01":"#3cb04a","IOMA":"#3cb04a",
  "CH235.12":"#c0693a","1B2530":"#c0693a","VRC13":"#f07878","179NC75":"#f07878","HJ16":"#f07878",
  "CH103":"#f07878","b12":"#f07878","VRC16":"#f07878","RHA10.04":"#6a2de8"};
gNames.forEach(function(n,r) {
  var cells = gHeat[r].replace(/\s/g,"").split("");
  var rowG = g.append("g");
  rowG.selectAll("rect").data(cells).enter().append("rect")
    .attr("x",function(v,i) { return gCol(i); }).attr("y",gRow(n))
    .attr("width",gCol.bandwidth()).attr("height",gRow.bandwidth())
    .attr("fill",function(v) { return gColor(v); })
    .attr("stroke","#777").attr("stroke-opacity",0.28).attr("stroke-width",0.5);
  cells.forEach(function(v,i) {
    if (v === "N") label(rowG,gCol(i)+gCol.bandwidth()/2,gRow(n)+gRow.bandwidth()/2,"NA",{size:11,rotate:90,color:"#111"});
  });
  var o = {size:14.5,anchor:"end",color:gNameColor[n] || "#111",weight:n === "RHA10.04" ? "bold" : "normal"};
  label(g,291.7,gRow(n)+gRow.bandwidth()/2,n,o);
  label(g,1202.4,gRow(n)+gRow.bandwidth()/2,n,o);
});

// dendrogram
var treeX = d3.scaleLinear().domain([0,213]).range([1208,1421]);
var root = d3.hierarchy(gTree,function(n) { return Array.isArray(n) ? n[2] : null; });
root.eachAfter(function(n) {
  if (n.children) {
    n.treeY = (n.children[0].treeY+n.children[n.children.length-1].treeY)/2;
    n.treeX = treeX(n.data[0]);
  } else {
    n.treeY = gRow(n.data)+gRow.bandwidth()/2;
    n.treeX = treeX(0);
  }
});
g.selectAll(".link").data(root.links()).enter().append("path")
  .attr("d",function(l) { return "M"+l.target.treeX+","+l.target.treeY+"H"+l.source.treeX+"V"+l.source.treeY; })
  .attr("fill","none").attr("stroke","#222").attr("stroke-width",1.5);
root.descendants().forEach(function(n) {
  if (n.children && n.data[1]) label(g,n.treeX-2.5,n.treeY,n.data[1],{size:10,anchor:"end",color:"#222"});
});

// heatmap legend
var gKey = d3.scalePoint().domain(gLegend).range([1719.3,1865]);
label(g,1443,1662,"IC50 (\u00b5g/mL)",{size:17.5,weight:"bold",anchor:"start"});
g.append("rect").attr("x",1443).attr("y",1677).attr("width",24).attr("height",24).attr("fill","#000");
label(g,1473,1689,">50",{size:18,weight:"bold",anchor:"start"});
gLegend.forEach(function(v,i) {
  if (i < 6) g.append("rect").attr("x",1443).attr("y",gKey(v)).attr("width",24).attr("height",gKey.step()).attr("fill",d3.schemeYlOrRd[7][i+1]);
  label(g,1473,gKey(v)+1,v,{size:18,weight:"bold",anchor:"start"});
});
</script>
</body>
</html>
